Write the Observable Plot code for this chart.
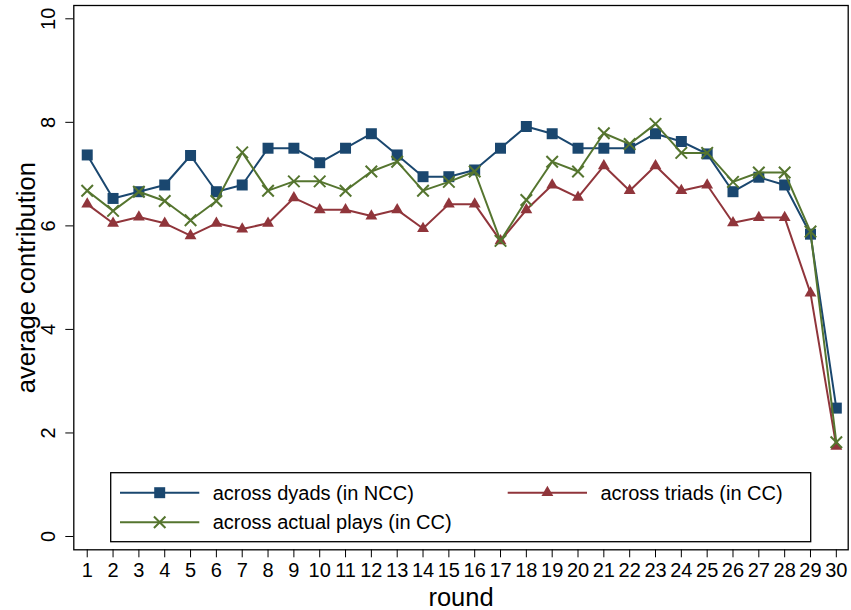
<!DOCTYPE html>
<html>
<head>
<meta charset="utf-8">
<script src="https://cdn.jsdelivr.net/npm/d3@7"></script>
<script src="https://cdn.jsdelivr.net/npm/@observablehq/plot@0.6"></script>
<style>
  html, body { margin: 0; padding: 0; background: #fff; }
  #wrap { position: relative; width: 851px; height: 610px; font-family: "Liberation Sans", Arial, sans-serif; }
  #legend { position: absolute; left: 0; top: 0; }
</style>
</head>
<body>
<div id="wrap"></div>
<script>
const rounds = Array.from({length: 30}, (_, i) => i + 1);
const yTicks = [0, 2, 4, 6, 8, 10];

const dyads  = [7.37,6.53,6.66,6.79,7.36,6.66,6.79,7.50,7.50,7.22,7.50,7.78,7.37,6.95,6.95,7.08,7.50,7.92,7.78,7.50,7.50,7.50,7.78,7.63,7.39,6.66,6.94,6.79,5.84,2.48];
const triads = [6.42,6.05,6.17,6.05,5.81,6.05,5.94,6.05,6.54,6.31,6.31,6.19,6.31,5.95,6.42,6.42,5.71,6.31,6.79,6.55,7.16,6.68,7.16,6.68,6.79,6.06,6.16,6.16,4.70,1.74];
const actual = [6.68,6.29,6.66,6.48,6.11,6.48,7.42,6.68,6.86,6.86,6.68,7.05,7.24,6.68,6.85,7.05,5.71,6.50,7.24,7.05,7.79,7.58,7.97,7.41,7.41,6.85,7.03,7.03,5.89,1.82];

const seriesNames = ["across dyads (in NCC)", "across triads (in CC)", "across actual plays (in CC)"];
const seriesValues = [dyads, triads, actual];
const seriesColors = ["#1a476f", "#90353b", "#55752f"];
const seriesSymbols = ["square", "triangle", "times"];
const seriesR = [6.2, 4.4, 5.3];

const font = '"Liberation Sans", Arial, sans-serif';

const seriesMarks = seriesValues.flatMap((vals, s) => {
  const data = rounds.map((r, i) => ({round: r, value: vals[i]}));
  const col = seriesColors[s];
  const sym = seriesSymbols[s];
  return [
    Plot.line(data, {x: "round", y: "value", stroke: col, strokeWidth: 2}),
    sym === "times"
      ? Plot.dot(data, {x: "round", y: "value", symbol: sym, r: seriesR[s], stroke: col, strokeWidth: 2, fill: "none"})
      : Plot.dot(data, {x: "round", y: "value", symbol: sym, r: seriesR[s], fill: col, stroke: "none"})
  ];
});

const chart = Plot.plot({
  width: 851,
  height: 610,
  marginLeft: 73.3,
  marginRight: 3.3,
  marginTop: 5,
  marginBottom: 60.7,
  x: {domain: [0.48, 30.46]},
  y: {domain: [-0.257, 10.257]},
  style: {fontFamily: font, fontSize: "20px", color: "#000", background: "#fff", overflow: "visible"},
  marks: [
    Plot.axisX(rounds, {tickSize: 8, tickPadding: 5, fontSize: 20, label: null, tickFormat: d => String(d)}),
    Plot.axisY(yTicks, {tickSize: 8, tickFormat: () => "", label: null}),
    Plot.text(yTicks, {y: d => d, text: d => String(d), frameAnchor: "left", textAnchor: "middle", lineAnchor: "middle", dx: -25, rotate: -90, fontSize: 20}),
    Plot.text(["round"], {frameAnchor: "bottom", textAnchor: "middle", lineAnchor: "middle", dy: 48, fontSize: 25.5}),
    Plot.text(["average contribution"], {frameAnchor: "left", textAnchor: "middle", lineAnchor: "middle", dx: -47, rotate: -90, fontSize: 25.5}),
    ...seriesMarks,
    Plot.frame({stroke: "#000", strokeWidth: 1.3})
  ]
});

const wrap = document.getElementById("wrap");
wrap.appendChild(chart);

// Legend overlay
const lg = d3.select(wrap).append("svg")
  .attr("id", "legend")
  .attr("width", 851).attr("height", 610)
  .style("pointer-events", "none");
const bx = 110.7, by = 472.7, bw = 700, bh = 69;
lg.append("rect").attr("x", bx).attr("y", by).attr("width", bw).attr("height", bh)
  .attr("fill", "#fff").attr("stroke", "#000").attr("stroke-width", 1.3);
const slots = [
  {col: 0, row: 0},
  {col: 1, row: 0},
  {col: 0, row: 1}
];
const colX = [bx + 9.3, bx + 397];
const rowY = [by + 20, by + 49.6];
const symMap = {square: d3.symbolSquare, triangle: d3.symbolTriangle, times: d3.symbolTimes};
seriesNames.forEach((name, s) => {
  const x0 = colX[slots[s].col], y0 = rowY[slots[s].row];
  const g = lg.append("g");
  g.append("line").attr("x1", x0).attr("x2", x0 + 79.3).attr("y1", y0).attr("y2", y0)
    .attr("stroke", seriesColors[s]).attr("stroke-width", 2);
  const r = seriesR[s];
  const path = d3.symbol(symMap[seriesSymbols[s]], Math.PI * r * r)();
  const p = g.append("path").attr("d", path).attr("transform", `translate(${x0 + 39.7},${y0})`);
  if (seriesSymbols[s] === "times") p.attr("fill", "none").attr("stroke", seriesColors[s]).attr("stroke-width", 2);
  else p.attr("fill", seriesColors[s]);
  g.append("text").attr("x", x0 + 92.7).attr("y", y0).attr("dy", "0.35em")
    .attr("font-family", font).attr("font-size", 20).attr("fill", "#000").text(name);
});
</script>
</body>
</html>
